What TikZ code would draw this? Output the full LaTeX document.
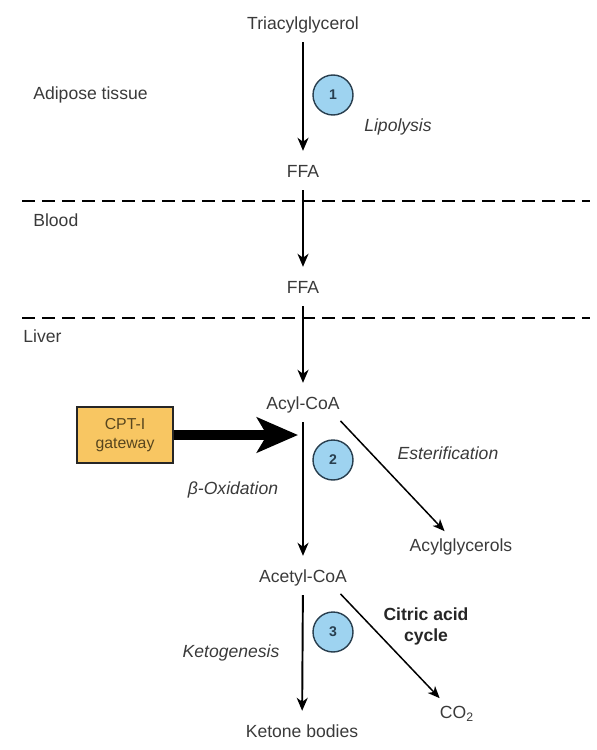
\documentclass[tikz,border=0pt]{standalone}
\usepackage{fontspec}
\setmainfont{Liberation Sans}
\usetikzlibrary{arrows.meta}
\definecolor{stepblue}{RGB}{158,211,240}
\definecolor{stepedge}{RGB}{40,62,78}
\definecolor{gatefill}{RGB}{248,198,98}
\definecolor{gatetext}{RGB}{88,70,30}
\definecolor{inkgray}{RGB}{58,58,58}

\tikzset{
  metab/.style={inner sep=2pt, text height=7.5pt, text depth=2pt, text=inkgray},
  tissue/.style={anchor=west, inner sep=0pt, text=inkgray},
  process/.style={inner sep=1pt, font=\itshape, text=inkgray},
  stepnum/.style={circle, minimum size=0.8cm, inner sep=0pt, fill=stepblue,
    draw=stepedge, line width=0.8pt, text=stepedge, font=\bfseries\footnotesize},
  gatebox/.style={draw=black!85, line width=1.4pt, fill=gatefill, text=gatetext,
    minimum width=1.92cm, minimum height=1.13cm, align=center, font=\small},
  flow/.style={line width=1.1pt, shorten <=1mm, shorten >=2mm,
    -{Stealth[length=0.26cm, width=0.22cm, inset=0.08cm]}},
  sideflow/.style={line width=0.85pt, shorten <=1mm, shorten >=1mm,
    -{Stealth[length=0.24cm, width=0.2cm, inset=0.07cm]}},
  border/.style={line width=1.6pt, dash pattern=on 0.26cm off 0.14cm}
}

\begin{document}
\begin{tikzpicture}[x=0.02cm, y=-0.02cm]
  \useasboundingbox (0,0) rectangle (597,750);
  % compartments
  \draw[border] (22,201) -- (590,201);
  \draw[border] (22,318) -- (590,318);
  \node[tissue] (adipose) at (33,95) {Adipose tissue};
  \node[tissue] (blood) at (33,220) {Blood};
  \node[tissue] (liver) at (23,336) {Liver};
  % metabolites
  \node[metab] (TAG) at (303,25) {Triacylglycerol};
  \node[metab] (FFAa) at (303,173) {FFA};
  \node[metab] (FFAb) at (303,289) {FFA};
  \node[metab] (AcylCoA) at (303,405) {Acyl-CoA};
  \node[metab] (AcetylCoA) at (303,578) {Acetyl-CoA};
  \node[metab] (ketone) at (302,733) {Ketone bodies};
  \node[metab] (acylgly) at (461,547) {Acylglycerols};
  \node[metab] (CO2) at (457,714) {CO\textsubscript{2}};
  % main pathway
  \draw[flow] (TAG) -- (FFAa);
  \draw[flow] (FFAa) -- (FFAb);
  \draw[flow] (FFAb) -- (AcylCoA);
  \draw[flow] (AcylCoA) -- (AcetylCoA);
  \draw[flow] (AcetylCoA) -- (ketone);
  \draw[sideflow] ([xshift=0.68cm]AcylCoA.south) -- ([xshift=-0.26cm]acylgly.north);
  \draw[sideflow] ([xshift=0.68cm]AcetylCoA.south) -- ([xshift=0.14cm]CO2.north west);
  % numbered steps
  \node[stepnum] (s1) at (333,95) {1};
  \node[stepnum] (s2) at (333,460) {2};
  \node[stepnum] (s3) at (333,632) {3};
  \node[process] (lipo) at (398,127) {Lipolysis};
  \node[process] (ester) at (448,453) {Esterification};
  \node[process] (betaox) at (233,490) {β-Oxidation};
  \node[process] (keto) at (231,653) {Ketogenesis};
  \node[align=center, font=\bfseries, text=black!85] (tca) at (426,626) {Citric acid\\cycle};
  % CPT-I
  \node[gatebox] (gate) at (125,435) {CPT-I\\gateway};
  \draw[line width=0.2cm, shorten >=0.1cm,
    -{Stealth[length=0.82cm, width=0.7cm, inset=0.2cm]}] (gate.east) -- (gate.east -| AcylCoA.center);
\end{tikzpicture}
\end{document}
